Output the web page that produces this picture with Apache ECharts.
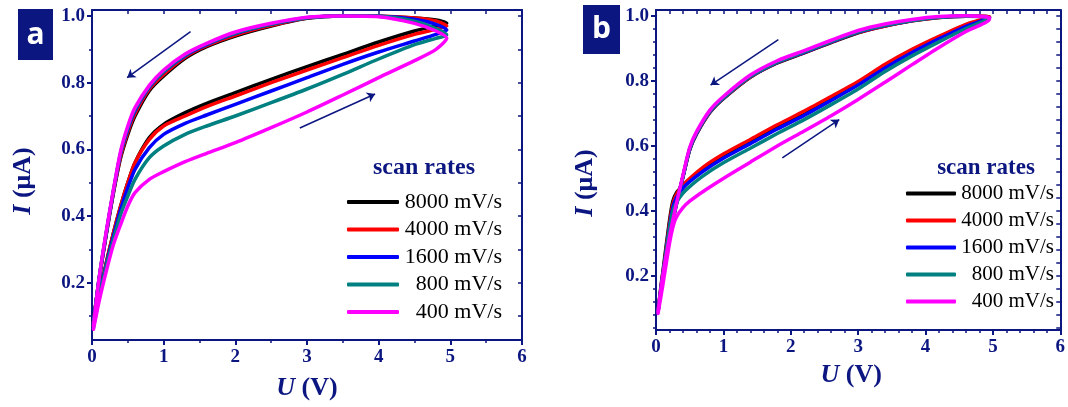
<!DOCTYPE html>
<html>
<head>
<meta charset="utf-8">
<script src="https://cdn.jsdelivr.net/npm/echarts@6/dist/echarts.min.js"></script>
<style>html,body{margin:0;padding:0;background:#fff}#chart{width:1068px;height:407px}</style>
</head>
<body>
<div id="chart"></div>
<script>
var names = ['8000 mV/s', '4000 mV/s', '1600 mV/s', '800 mV/s', '400 mV/s'];
var colors = ['#000000', '#ff0000', '#0000ff', '#008080', '#ff00ff'];

// panel a : forward scan (lower branch), then reverse scan (upper branch)
var aFwdU = [0.02, 0.1, 0.2, 0.3, 0.4, 0.5, 0.6, 0.8, 1.0, 1.3, 1.6, 2.0, 2.5, 3.0, 3.5, 4.0, 4.5, 4.8, 4.95];
var aFwd8000 = [0.07, 0.16, 0.26, 0.35, 0.43, 0.50, 0.56, 0.635, 0.675, 0.71, 0.738, 0.77, 0.81, 0.848, 0.885, 0.922, 0.955, 0.97, 0.978];
var aFwd4000 = [0.07, 0.16, 0.26, 0.35, 0.43, 0.50, 0.56, 0.63, 0.67, 0.70, 0.728, 0.76, 0.80, 0.838, 0.875, 0.912, 0.945, 0.96, 0.97];
var aFwd1600 = [0.07, 0.158, 0.255, 0.34, 0.42, 0.485, 0.54, 0.605, 0.645, 0.678, 0.703, 0.735, 0.775, 0.815, 0.855, 0.892, 0.925, 0.945, 0.958];
var aFwd800 = [0.065, 0.155, 0.25, 0.33, 0.405, 0.46, 0.51, 0.575, 0.61, 0.645, 0.67, 0.70, 0.74, 0.781, 0.825, 0.871, 0.914, 0.933, 0.943];
var aFwd400 = [0.06, 0.145, 0.235, 0.315, 0.375, 0.43, 0.47, 0.51, 0.533, 0.563, 0.588, 0.62, 0.665, 0.712, 0.763, 0.815, 0.866, 0.90, 0.934];

var aRevU = [4.95, 4.8, 4.5, 4.0, 3.5, 3.0, 2.5, 2.0, 1.6, 1.3, 1.0, 0.8, 0.6, 0.5, 0.4, 0.3, 0.2, 0.1, 0.02];
var aRev8000 = [0.978, 0.988, 0.994, 0.999, 1.0, 0.993, 0.970, 0.940, 0.908, 0.873, 0.820, 0.776, 0.70, 0.645, 0.575, 0.47, 0.345, 0.21, 0.085];
var aRev4000 = [0.97, 0.985, 0.994, 0.999, 1.0, 0.994, 0.972, 0.943, 0.911, 0.877, 0.825, 0.781, 0.707, 0.652, 0.58, 0.473, 0.348, 0.212, 0.08];
var aRev1600 = [0.958, 0.975, 0.99, 0.999, 1.0, 0.995, 0.975, 0.947, 0.914, 0.881, 0.832, 0.786, 0.715, 0.66, 0.588, 0.476, 0.35, 0.213, 0.078];
var aRev800 = [0.943, 0.962, 0.984, 0.999, 1.0, 0.995, 0.976, 0.949, 0.916, 0.883, 0.834, 0.789, 0.72, 0.665, 0.59, 0.478, 0.352, 0.214, 0.075];
var aRev400 = [0.934, 0.955, 0.978, 0.998, 1.0, 0.996, 0.978, 0.952, 0.918, 0.886, 0.838, 0.792, 0.725, 0.67, 0.595, 0.48, 0.355, 0.215, 0.07];

// panel b
var bFwdU = [0.03, 0.1, 0.2, 0.25, 0.3, 0.4, 0.5, 0.7, 1.0, 1.4, 1.8, 2.2, 2.6, 3.0, 3.4, 3.8, 4.2, 4.6, 4.95];
var bFwd8000 = [0.09, 0.21, 0.37, 0.43, 0.455, 0.478, 0.497, 0.53, 0.57, 0.615, 0.66, 0.702, 0.748, 0.795, 0.848, 0.894, 0.934, 0.972, 0.996];
var bFwd4000 = [0.09, 0.2, 0.36, 0.42, 0.45, 0.48, 0.50, 0.535, 0.575, 0.62, 0.665, 0.707, 0.752, 0.798, 0.851, 0.897, 0.937, 0.974, 0.997];
var bFwd1600 = [0.09, 0.2, 0.35, 0.41, 0.44, 0.47, 0.49, 0.522, 0.562, 0.607, 0.652, 0.694, 0.740, 0.787, 0.840, 0.887, 0.929, 0.968, 0.995];
var bFwd800 = [0.09, 0.2, 0.345, 0.40, 0.425, 0.455, 0.475, 0.508, 0.548, 0.593, 0.638, 0.681, 0.727, 0.775, 0.829, 0.877, 0.920, 0.961, 0.994];
var bFwd400 = [0.085, 0.17, 0.30, 0.35, 0.38, 0.41, 0.43, 0.46, 0.50, 0.55, 0.60, 0.646, 0.693, 0.743, 0.796, 0.85, 0.903, 0.952, 0.99];

var bRevU = [4.95, 4.6, 4.2, 3.8, 3.4, 3.0, 2.6, 2.2, 1.8, 1.4, 1.0, 0.8, 0.6, 0.5, 0.4, 0.3, 0.2, 0.1, 0.03];
var bRev8000 = [0.996, 0.999, 0.995, 0.985, 0.969, 0.948, 0.918, 0.886, 0.855, 0.811, 0.745, 0.703, 0.636, 0.588, 0.505, 0.42, 0.33, 0.21, 0.09];
var bRev4000 = [0.997, 0.999, 0.995, 0.985, 0.969, 0.949, 0.919, 0.887, 0.856, 0.812, 0.746, 0.704, 0.637, 0.589, 0.505, 0.42, 0.325, 0.205, 0.09];
var bRev1600 = [0.995, 0.999, 0.996, 0.986, 0.970, 0.950, 0.920, 0.888, 0.857, 0.813, 0.747, 0.705, 0.638, 0.59, 0.505, 0.418, 0.32, 0.2, 0.09];
var bRev800 = [0.994, 0.999, 0.996, 0.986, 0.971, 0.951, 0.921, 0.889, 0.858, 0.814, 0.748, 0.706, 0.639, 0.591, 0.506, 0.417, 0.318, 0.199, 0.09];
var bRev400 = [0.995, 1.0, 0.998, 0.989, 0.975, 0.955, 0.925, 0.893, 0.862, 0.818, 0.752, 0.71, 0.643, 0.595, 0.51, 0.42, 0.32, 0.2, 0.09];

// scan direction arrows [x1, y1, x2, y2]
var aArrows = [[1.375, 0.953, 0.49, 0.815], [2.90, 0.664, 3.95, 0.766]];
var bArrows = [[1.816, 0.927, 0.81, 0.787], [1.875, 0.563, 2.72, 0.681]];

var yTicks = [0.2, 0.4, 0.6, 0.8, 1.0];
var aYMinor = [0.1, 0.3, 0.5, 0.7, 0.9];

var navy = '#0c1680';
var serif = '"Liberation Serif", "Times New Roman", serif';

var aFwd = [aFwd8000, aFwd4000, aFwd1600, aFwd800, aFwd400];
var aRev = [aRev8000, aRev4000, aRev1600, aRev800, aRev400];
var bFwd = [bFwd8000, bFwd4000, bFwd1600, bFwd800, bFwd400];
var bRev = [bRev8000, bRev4000, bRev1600, bRev800, bRev400];

function loop(fx, fy, rx, ry) {
	var d = [];
	for (var k = 0; k < fx.length; k++) d.push([fx[k], fy[k]]);
	for (var k = 0; k < rx.length; k++) d.push([rx[k], ry[k]]);
	return d;
}

var bYMinor = [];
var bYAll = [];
for (var k = 1; k <= 25; k++) {
	var v = Math.round(k * 4) / 100;
	bYAll.push(v);
	if (k % 5 != 0) bYMinor.push(v);
}
var aYAll = [0.1, 0.2, 0.3, 0.4, 0.5, 0.6, 0.7, 0.8, 0.9, 1.0];

var labelStyle = { color: navy, fontFamily: serif, fontWeight: 'bold', fontSize: 19 };
var lineSt = { color: navy, width: 2 };

function bottomAxis(grid, minorSplit, gap, pad) {
	return {
		type: 'value', gridIndex: grid, position: 'bottom', min: 0, max: 6, interval: 1,
		axisLine: { lineStyle: lineSt },
		axisTick: { length: 5, lineStyle: lineSt },
		minorTick: { show: true, splitNumber: minorSplit, length: 3, lineStyle: { color: navy, width: 1.5 } },
		axisLabel: Object.assign({ margin: 8 }, labelStyle),
		splitLine: { show: false },
		name: '{i|U} (V)', nameLocation: 'middle', nameGap: gap,
		nameTextStyle: {
			color: navy, fontFamily: serif, fontWeight: 'bold', fontSize: 26, padding: pad,
			rich: { i: { fontStyle: 'italic', fontWeight: 'bold', fontFamily: serif, fontSize: 26, color: navy } }
		}
	};
}
function topAxis(grid, step) {
	return {
		type: 'value', gridIndex: grid, position: 'top', min: 0, max: 6, interval: step,
		axisLine: { lineStyle: lineSt },
		axisTick: { inside: true, length: 4, lineStyle: { color: navy, width: 1.5 } },
		axisLabel: { show: false }, splitLine: { show: false }
	};
}
function leftAxis(grid, lo, gap, pad) {
	return {
		type: 'value', gridIndex: grid, position: 'left', min: lo, max: 1.018,
		axisLine: { show: true, lineStyle: lineSt },
		axisTick: { show: true, length: 5, customValues: yTicks, lineStyle: lineSt },
		axisLabel: Object.assign({ margin: 7, customValues: yTicks, formatter: function (v) { return v.toFixed(1); } }, labelStyle),
		splitLine: { show: false },
		name: '{i|I} (μA)', nameLocation: 'middle', nameGap: gap,
		nameTextStyle: {
			color: navy, fontFamily: serif, fontWeight: 'bold', fontSize: 26, padding: pad,
			rich: { i: { fontStyle: 'italic', fontWeight: 'bold', fontFamily: serif, fontSize: 26, color: navy } }
		}
	};
}
function minorAxis(grid, lo, vals) {
	return {
		type: 'value', gridIndex: grid, position: 'left', min: lo, max: 1.018,
		axisLine: { show: false },
		axisTick: { show: true, length: 3, customValues: vals, lineStyle: { color: navy, width: 1.5 } },
		axisLabel: { show: false }, splitLine: { show: false }
	};
}
function rightAxis(grid, lo, vals) {
	return {
		type: 'value', gridIndex: grid, position: 'right', min: lo, max: 1.018,
		axisLine: { show: true, lineStyle: lineSt },
		axisTick: { show: true, inside: true, length: 4, customValues: vals, lineStyle: { color: navy, width: 1.5 } },
		axisLabel: { show: false }, splitLine: { show: false }
	};
}

var series = [];
for (var i = 0; i < 5; i++) {
	series.push({
		name: names[i], type: 'line', xAxisIndex: 0, yAxisIndex: 0,
		data: loop(aFwdU, aFwd[i], aRevU, aRev[i]),
		symbol: 'none', smooth: 0.25, color: colors[i],
		lineStyle: { width: 3.5, color: colors[i], cap: 'round', join: 'round' }
	});
}
for (var i = 0; i < 5; i++) {
	series.push({
		name: names[i], type: 'line', xAxisIndex: 2, yAxisIndex: 3,
		data: loop(bFwdU, bFwd[i], bRevU, bRev[i]),
		symbol: 'none', smooth: 0.25, color: colors[i],
		lineStyle: { width: 3.5, color: colors[i], cap: 'round', join: 'round' }
	});
}
function arrowSeries(list, xi, yi) {
	return {
		name: 'arrows', type: 'lines', coordinateSystem: 'cartesian2d', xAxisIndex: xi, yAxisIndex: yi,
		symbol: ['none', 'arrow'], symbolSize: 8,
		lineStyle: { color: navy, width: 1.5, opacity: 1 },
		data: list.map(function (a) { return { coords: [[a[0], a[1]], [a[2], a[3]]] }; })
	};
}
series.push(arrowSeries(aArrows, 0, 0));
series.push(arrowSeries(bArrows, 2, 3));

function legendFor(left, top, fs, gap, w, iw) {
	return {
		data: names, orient: 'vertical', left: left, top: top, padding: 0,
		itemWidth: iw, itemHeight: 4, icon: 'roundRect', itemGap: gap, selectedMode: false,
		formatter: function (n) { return '{r|' + n + '}'; },
		textStyle: {
			rich: { r: { width: w, align: 'right', fontFamily: serif, fontSize: fs, lineHeight: fs, color: '#000' } }
		}
	};
}

var myChart = echarts.init(document.getElementById('chart'));
var option = {
	animation: false,
	backgroundColor: '#fff',
	grid: [
		{ left: 92, right: 546, top: 10, bottom: 67 },
		{ left: 656, right: 3, top: 10, bottom: 77 }
	],
	xAxis: [
		bottomAxis(0, 2, 35, [0, 0, 0, 0]),
		topAxis(0, 0.5),
		bottomAxis(1, 5, 32, [0, 14, 0, 0]),
		topAxis(1, 0.2)
	],
	yAxis: [
		leftAxis(0, 0.028, 56, [0, 12, 0, 0]),
		minorAxis(0, 0.028, aYMinor),
		rightAxis(0, 0.028, aYAll),
		leftAxis(1, 0.034, 58, [0, 26, 0, 0]),
		minorAxis(1, 0.034, bYMinor),
		rightAxis(1, 0.034, bYAll)
	],
	legend: [
		legendFor(347, 191, 22, 5.5, 98, 52),
		legendFor(906, 183, 21, 6, 93, 50)
	],
	graphic: [
		{ type: 'rect', shape: { x: 18, y: 9, width: 35, height: 51 }, style: { fill: navy } },
		{ type: 'text', x: 35.5, y: 35, style: { text: 'a', fill: '#fff', font: 'bold 30px "Open Sans", "DejaVu Sans", sans-serif', align: 'center', verticalAlign: 'middle' } },
		{ type: 'rect', shape: { x: 583, y: 5, width: 37, height: 49 }, style: { fill: navy } },
		{ type: 'text', x: 601.5, y: 29, style: { text: 'b', fill: '#fff', font: 'bold 30px "Open Sans", "DejaVu Sans", sans-serif', align: 'center', verticalAlign: 'middle' } },
		{ type: 'text', x: 424, y: 168, style: { text: 'scan rates', fill: navy, font: 'bold 24px "Liberation Serif", serif', align: 'center', verticalAlign: 'middle' } },
		{ type: 'text', x: 986, y: 168, style: { text: 'scan rates', fill: navy, font: 'bold 23px "Liberation Serif", serif', align: 'center', verticalAlign: 'middle' } }
	],
	series: series
};
myChart.setOption(option);
</script>
</body>
</html>
